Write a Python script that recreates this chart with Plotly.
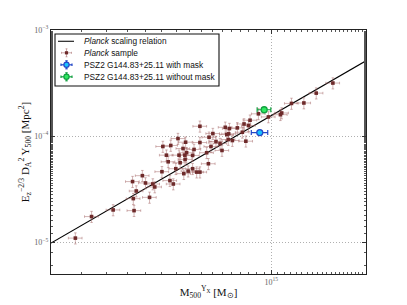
import numpy as np
import plotly.graph_objects as go

# ---------------- data ----------------
# Planck sample: mass in 1e14 Msun, Y in 1e-5 Mpc^2
sample_mass_1e14 = [15.7, 13.9, 12.7, 11.6, 10.8, 10.7, 9.80, 9.11, 8.57, 8.47,
                    8.20, 7.81, 8.10, 7.37, 7.33, 7.23, 7.15, 6.35, 8.31, 7.53,
                    7.31, 6.88, 5.94, 6.24, 6.32, 5.94, 2.39, 2.69, 3.15, 3.67,
                    3.65, 4.11, 3.73, 3.63, 3.90, 3.99, 4.21, 4.27, 4.50, 4.65,
                    4.71, 4.77, 4.89, 4.98, 5.10, 5.14, 5.28, 5.32, 5.33, 5.39,
                    5.45, 5.63, 5.63, 5.80, 5.35, 4.53, 4.80, 5.06, 5.25, 5.69,
                    5.94, 6.44, 6.68, 6.98, 6.53]
sample_Y_1e5 = [31.6, 25.4, 20.5, 20.3, 16.5, 15.9, 15.15, 16.2, 14.1, 12.55,
                13.0, 11.94, 10.86, 11.76, 10.49, 10.33, 12.09, 9.74, 8.94, 9.07,
                9.27, 8.50, 12.36, 6.96, 5.48, 4.57, 1.09, 1.74, 2.01, 1.98,
                2.57, 2.64, 3.03, 3.72, 4.23, 3.61, 3.53, 3.31, 4.61, 6.60,
                5.72, 3.80, 3.53, 4.92, 6.60, 5.60, 4.42, 6.60, 6.02, 6.96,
                4.67, 6.56, 4.92, 4.57, 8.75, 7.97, 8.15, 9.47, 7.63, 7.47,
                8.69, 7.97, 8.88, 7.31, 10.55]

relation_mass = [2e14, 2e15]
relation_Y = [0.978e-5, 5.12e-4]

psz_mask_mass = [9.20e14]
psz_mask_Y = [10.79e-5]
psz_nomask_mass = [9.50e14]
psz_nomask_Y = [17.7e-5]

x_tick_vals = [1e15]
x_tick_text = ["10<sup>15</sup>"]
y_tick_vals = [1e-5, 1e-4, 1e-3]
y_tick_text = ["10<sup>−5</sup>", "10<sup>−4</sup>", "10<sup>−3</sup>"]

legend_labels = ["<i>Planck</i> scaling relation", "<i>Planck</i> sample",
                 "PSZ2 G144.83+25.11 with mask", "PSZ2 G144.83+25.11 without mask"]

# ---------------- figure ----------------
W, H = 407, 305
L, R, T, B = 51, 41, 30, 31
PW, PH = W - L - R, H - T - B

sample_x = np.array(sample_mass_1e14) * 1e14
sample_y = np.array(sample_Y_1e5) * 1e-5

maroon = "#6e2a2a"
err_col = "rgba(165,105,105,0.7)"
blue_edge = "#2448c8"
blue_fill = "#19c3ff"
green_edge = "#12a040"
green_fill = "#2ee860"

fig = go.Figure()
fig.add_trace(go.Scatter(x=relation_mass, y=relation_Y, mode="lines",
                         line=dict(color="black", width=1.2), showlegend=False))
fig.add_trace(go.Scatter(
    x=sample_x, y=sample_y, mode="markers",
    marker=dict(color=maroon, size=3.6, symbol="square", line=dict(width=0)),
    error_x=dict(type="percent", value=5, color=err_col, thickness=0.7, width=1.3),
    error_y=dict(type="percent", value=12, color=err_col, thickness=0.7, width=1.3),
    showlegend=False))
fig.add_trace(go.Scatter(
    x=psz_mask_mass, y=psz_mask_Y, mode="markers",
    marker=dict(color=blue_fill, size=6, symbol="circle", line=dict(color=blue_edge, width=1.3)),
    error_x=dict(type="percent", value=6, color=blue_edge, thickness=1.2, width=2.5),
    error_y=dict(type="percent", value=4, color=blue_edge, thickness=1.2, width=2.5),
    showlegend=False))
fig.add_trace(go.Scatter(
    x=psz_nomask_mass, y=psz_nomask_Y, mode="markers",
    marker=dict(color=green_fill, size=6, symbol="circle", line=dict(color=green_edge, width=1.3)),
    error_x=dict(type="percent", value=5, color=green_edge, thickness=1.2, width=2.5),
    error_y=dict(type="percent", value=4, color=green_edge, thickness=1.2, width=2.5),
    showlegend=False))

axis_common = dict(
    type="log", showline=True, linecolor="#222", linewidth=1.2, mirror="ticks",
    ticks="inside", ticklen=4, tickcolor="#333", tickwidth=1,
    showgrid=True, gridcolor="#b0b0b0", griddash="1px,2px", gridwidth=0.7,
    zeroline=False, automargin=False,
    tickfont=dict(family="Liberation Serif", size=8, color="#666"),
    minor=dict(ticks="inside", ticklen=2, tickcolor="#555", tickwidth=0.8, showgrid=False),
)

fig.update_xaxes(range=[np.log10(2e14), np.log10(2e15)], tickvals=x_tick_vals,
                 ticktext=x_tick_text,
                 title=dict(text="M<sub>500</sub><sup>Y<sub>X</sub></sup> [M<sub>⊙</sub>]",
                            font=dict(family="Liberation Serif", size=11, color="#111"),
                            standoff=2),
                 **axis_common)
fig.update_yaxes(range=[np.log10(5e-6), -3], tickvals=y_tick_vals, ticktext=y_tick_text,
                 title=dict(text="E<sub>z</sub><sup>−2/3</sup> D<sub>A</sub><sup>2</sup> Y<sub>500</sub> [Mpc<sup>2</sup>]",
                            font=dict(family="Liberation Serif", size=11, color="#111"),
                            standoff=2),
                 **axis_common)


# ---------------- manual legend ----------------
def px(xpix):
    return (xpix - L) / PW


def py(ypix):
    return (H - B - ypix) / PH


shapes = []
shapes.append(dict(type="rect", xref="paper", yref="paper", x0=px(55), x1=px(219),
                   y0=py(86), y1=py(34), line=dict(color="#111", width=1.1),
                   fillcolor="white", layer="above"))
rows = [41.3, 52.8, 64.8, 76.8]
mx = 66.5
# line sample
shapes.append(dict(type="line", xref="paper", yref="paper", x0=px(58), x1=px(74),
                   y0=py(rows[0]), y1=py(rows[0]), line=dict(color="#222", width=1.2),
                   layer="above"))


def err_marker(y, col, ecol, ew, dx, dy, cap, r, edge=None, square=False):
    s = []
    s.append(dict(type="line", xref="paper", yref="paper", x0=px(mx - dx), x1=px(mx + dx),
                  y0=py(y), y1=py(y), line=dict(color=ecol, width=ew), layer="above"))
    s.append(dict(type="line", xref="paper", yref="paper", x0=px(mx), x1=px(mx),
                  y0=py(y - dy), y1=py(y + dy), line=dict(color=ecol, width=ew), layer="above"))
    for sx in (-dx, dx):
        s.append(dict(type="line", xref="paper", yref="paper", x0=px(mx + sx), x1=px(mx + sx),
                      y0=py(y - cap), y1=py(y + cap), line=dict(color=ecol, width=ew), layer="above"))
    for sy in (-dy, dy):
        s.append(dict(type="line", xref="paper", yref="paper", x0=px(mx - cap), x1=px(mx + cap),
                      y0=py(y + sy), y1=py(y + sy), line=dict(color=ecol, width=ew), layer="above"))
    s.append(dict(type="rect" if square else "circle", xref="paper", yref="paper",
                  x0=px(mx - r), x1=px(mx + r), y0=py(y + r), y1=py(y - r),
                  fillcolor=col, line=dict(color=edge or col, width=1.2 if edge else 0),
                  layer="above"))
    return s


shapes += err_marker(rows[1], maroon, err_col, 0.8, 5, 4, 1, 1.6, square=True)
shapes += err_marker(rows[2], blue_fill, blue_edge, 1.2, 5.5, 4, 1.2, 2.6, edge=blue_edge)
shapes += err_marker(rows[3], green_fill, green_edge, 1.2, 5.5, 4, 1.2, 2.6, edge=green_edge)

annotations = []
for lab, yrow in zip(legend_labels, rows):
    annotations.append(dict(xref="paper", yref="paper", x=px(81.5), y=py(yrow),
                            text=lab, showarrow=False, xanchor="left", yanchor="middle",
                            font=dict(family="Liberation Sans", size=8.3, color="#111")))

fig.update_layout(
    width=W, height=H, margin=dict(l=L, r=R, t=T, b=B),
    paper_bgcolor="white", plot_bgcolor="white",
    showlegend=False, shapes=shapes, annotations=annotations,
)

fig.write_html("out.html", config={"displayModeBar": False},
               post_script="document.body.style.margin='0';document.body.style.padding='0';document.documentElement.style.overflow='hidden';")
